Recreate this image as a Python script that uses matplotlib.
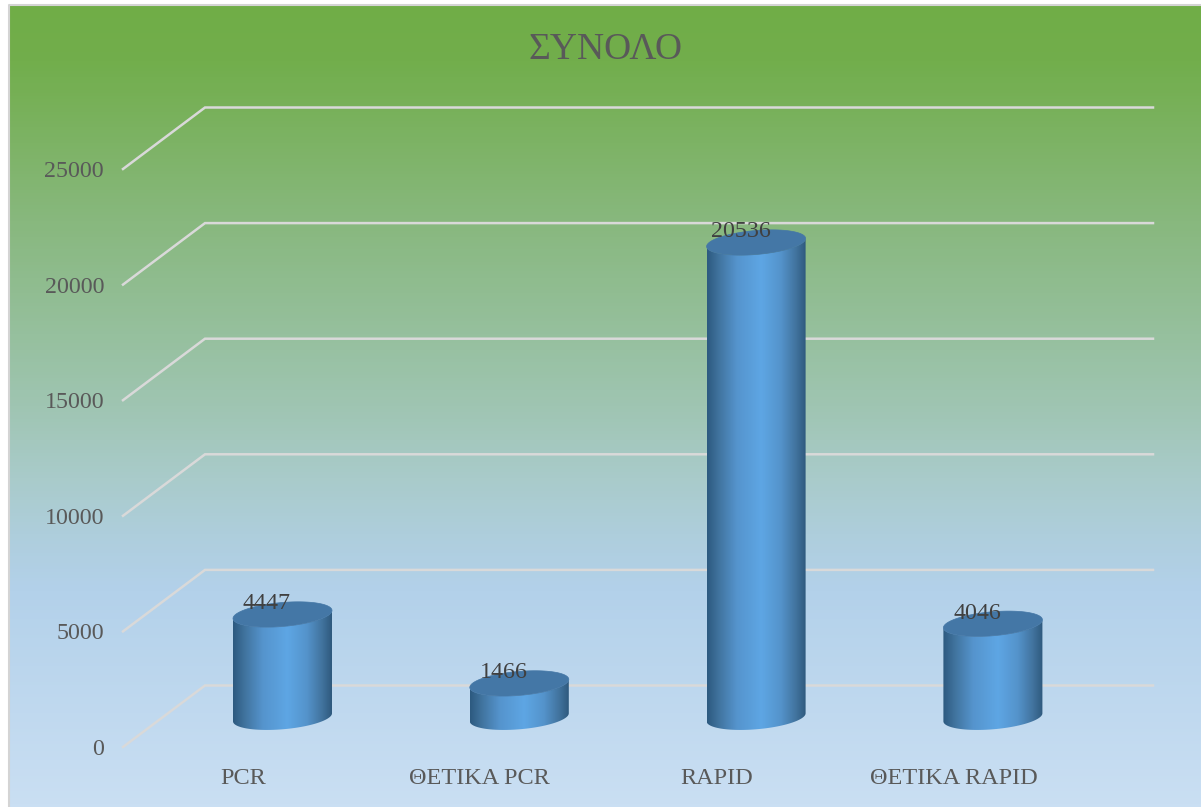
import numpy as np
import matplotlib
matplotlib.use("Agg")
import matplotlib.pyplot as plt
from matplotlib.colors import LinearSegmentedColormap
from matplotlib.patches import Polygon

plt.rcParams['font.family'] = ['Liberation Serif', 'DejaVu Serif']

categories = ['PCR', 'ΘΕΤΙΚΑ PCR', 'RAPID', 'ΘΕΤΙΚΑ RAPID']
values = [4447, 1466, 20536, 4046]
y_ticks = [0, 5000, 10000, 15000, 20000, 25000]
title = 'ΣΥΝΟΛΟ'

W, H = 1201, 807
fig = plt.figure(figsize=(W / 100, H / 100), dpi=100)
ax = fig.add_axes([0, 0, 1, 1])
ax.axis('off')

# one category = 236.8 px, 1000 units = 23.12 px
px_x = 1 / 236.8
px_y = 1 / 0.02312
xlim = (-282.5 * px_x, (W - 282.5) * px_x)
ylim = ((747 - H) * px_y, 747 * px_y)

# background
bg_stops = [(0.0, '#70ad47'), (0.07, '#72ae4c'), (0.27, '#88b87e'), (0.5, '#9fc5b2'),
            (0.59, '#a9cbca'), (0.66, '#aecedc'), (0.73, '#b3d1ea'), (1.0, '#cadff3')]
bg_cmap = LinearSegmentedColormap.from_list('bg', bg_stops)
ax.imshow(np.linspace(0, 1, 256).reshape(-1, 1), cmap=bg_cmap, aspect='auto',
          extent=[9 / W, 1, 0, 1 - 5 / H], transform=ax.transAxes, zorder=0)
ax.plot([9 / W, 9 / W, 1], [0, 1 - 5 / H, 1 - 5 / H], color='#d4d4d4', lw=1.5,
        transform=ax.transAxes, zorder=1)

# gridlines, front edge then back wall
wall_x0 = (123 - 282.5) * px_x
wall_x1 = (205 - 282.5) * px_x
wall_x2 = (1153 - 282.5) * px_x
wall_dy = 61.5 * px_y
for t in y_ticks:
    ax.plot([wall_x0, wall_x1, wall_x2], [t, t + wall_dy, t + wall_dy],
            color='#d9d9d9', lw=1.8, solid_joinstyle='miter', zorder=2)
    ax.text(wall_x0 - 19 * px_x, t - 2.5 * px_y, str(t), ha='right', va='center',
            fontsize=17.3, color='#595959', zorder=5)

# cylinders
bar_cmap = LinearSegmentedColormap.from_list('bar', [
    (0.0, '#2d5a80'), (0.12, '#41749f'), (0.3, '#5594cd'), (0.55, '#5ea6e4'),
    (0.75, '#5493cb'), (0.9, '#42749f'), (1.0, '#2f5a7e')])
a = 49.5 * px_x
b = 12.0 * px_y
c = 4.0 * px_y
base = 1285
t_up = np.linspace(np.pi, 0, 80)
t_low = np.linspace(0, -np.pi, 80)

for i, v in enumerate(values):
    top = base + v
    # tilted ellipse edges
    xs_back = i + a * np.cos(t_up)
    ys_back = top + b * np.sin(t_up) + c * np.cos(t_up)
    xs_front = i + a * np.cos(t_low)
    ys_front = top + b * np.sin(t_low) + c * np.cos(t_low)

    body_x = np.r_[xs_front[::-1], xs_front]
    body_y = np.r_[ys_front[::-1], ys_front - v]
    body = Polygon(np.c_[body_x, body_y], closed=True, transform=ax.transData,
                   fc='none', ec='none')
    ax.add_patch(body)
    im = ax.imshow(np.linspace(0, 1, 200).reshape(1, -1), cmap=bar_cmap, aspect='auto',
                   extent=[i - a, i + a, base - 20 * px_y, top + 20 * px_y], zorder=3)
    im.set_clip_path(body)

    ax.fill(np.r_[xs_back, xs_front], np.r_[ys_back, ys_front], color='#4477a6',
            lw=0.5, zorder=4)

    ax.text(i - 15.5 * px_x, top + 10.5 * px_y, str(v), ha='center', va='center',
            fontsize=17.3, color='#404040', zorder=6)
    ax.text(i - 39.5 * px_x, -32 * px_y, categories[i], ha='center', va='center',
            fontsize=17.5, color='#595959', zorder=5)

ax.text(605.5 * px_x - 282.5 * px_x, (747 - 50) * px_y, title, ha='center', va='center',
        fontsize=27, color='#595959', zorder=5)

ax.set_xlim(*xlim)
ax.set_ylim(*ylim)
fig.savefig('out.png', dpi=100)
